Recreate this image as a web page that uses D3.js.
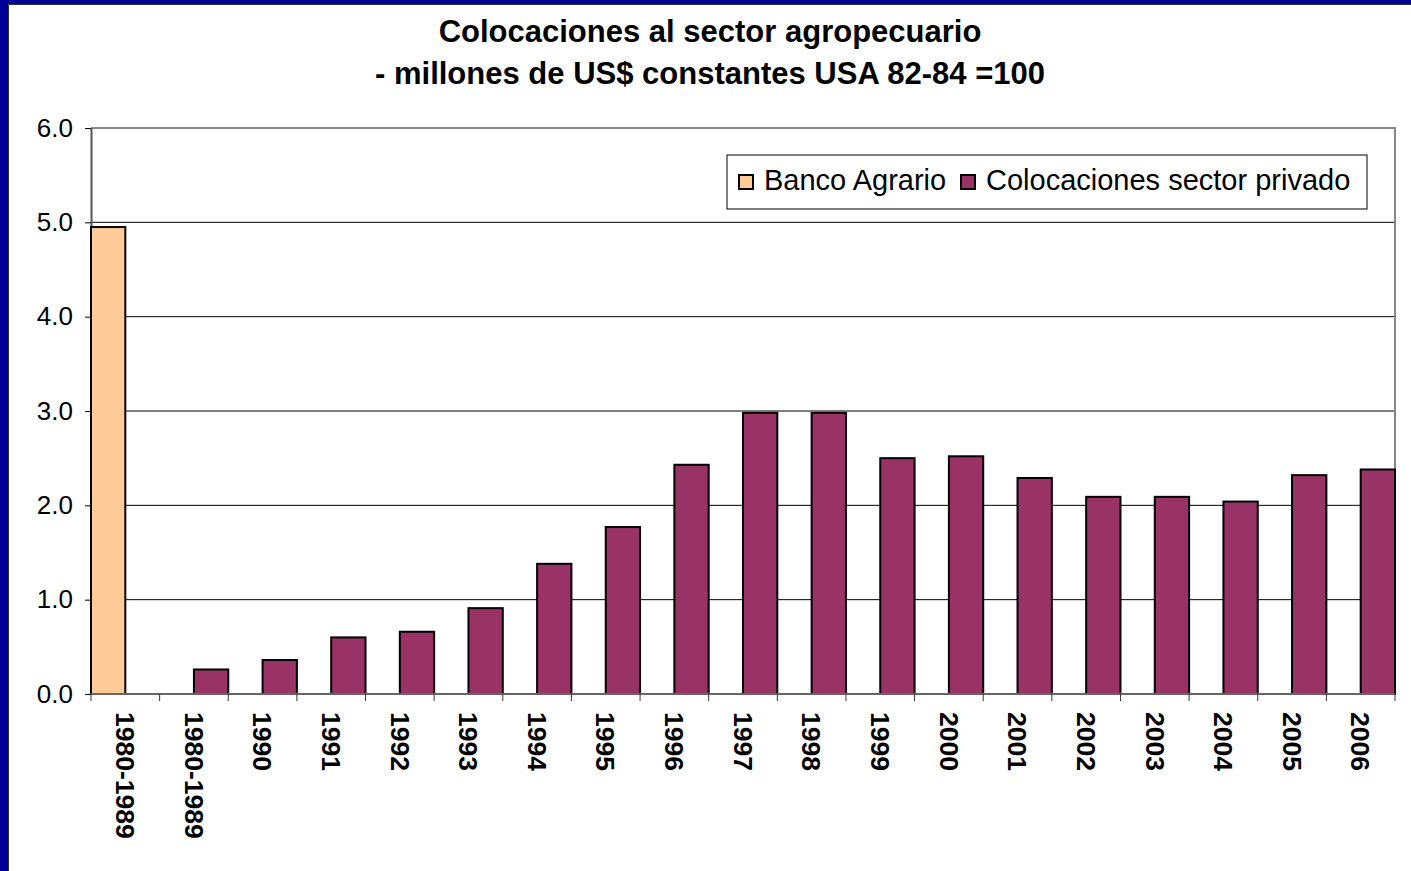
<!DOCTYPE html>
<html>
<head>
<meta charset="utf-8">
<script src="https://cdn.jsdelivr.net/npm/d3@7"></script>
<style>
  body { margin: 0; background: #fff; }
  text { font-family: Arial, "Liberation Sans", sans-serif; }
</style>
</head>
<body>
<div id="chart"></div>
<script>
// Data
const categories = ["1980-1989", "1980-1989", "1990", "1991", "1992", "1993", "1994", "1995", "1996",
    "1997", "1998", "1999", "2000", "2001", "2002", "2003", "2004", "2005", "2006"];
const seriesNames = ["Banco Agrario", "Colocaciones sector privado"];
const bancoAgrario = [4.95, null, null, null, null, null, null, null, null,
    null, null, null, null, null, null, null, null, null, null];
const sectorPrivado = [null, 0.26, 0.36, 0.60, 0.66, 0.91, 1.38, 1.77, 2.43,
    2.98, 2.98, 2.50, 2.52, 2.29, 2.09, 2.09, 2.04, 2.32, 2.38];
const yTicks = [0, 1, 2, 3, 4, 5, 6];
const titleLines = ["Colocaciones al sector agropecuario", "- millones de US$ constantes USA 82-84 =100"];

var W = 1411, H = 871
var margin = { left: 91, right: 16, top: 128, bottom: 177 }
var width = W - margin.left - margin.right
var height = H - margin.top - margin.bottom

const color = d3.scaleOrdinal().domain(seriesNames).range(["#FFCC99", "#993366"]);

// one row per category, index kept because the first label repeats
var data = categories.map((c, i) => ({
    key: i,
    category: c,
    values: [
        { series: seriesNames[0], value: bancoAgrario[i] },
        { series: seriesNames[1], value: sectorPrivado[i] }
    ]
}));

var svg = d3.select("#chart")
    .append("svg")
    .attr("width", W)
    .attr("height", H);

// blue frame on the left and top
svg.append("rect").attr("width", W).attr("height", H).attr("fill", "#000099");
svg.append("rect").attr("x", 8).attr("y", 4).attr("width", W - 8).attr("height", H - 4)
    .attr("fill", "#fff");
svg.append("path").attr("d", "M8.5," + H + "V4.5H" + W)
    .attr("fill", "none").attr("stroke", "#333").attr("stroke-width", 1);

// Title
svg.selectAll(".title")
    .data(titleLines)
    .enter().append("text")
    .attr("class", "title")
    .attr("x", 710)
    .attr("y", (d, i) => 42 + i * 42)
    .attr("text-anchor", "middle")
    .attr("font-size", "31px")
    .attr("font-weight", "bold")
    .text(d => d);

var g = svg.append("g")
    .attr("transform", "translate(" + margin.left + ", " + margin.top + ")");

var x0 = d3.scaleBand()
    .domain(data.map(d => d.key))
    .range([0, width])
    .padding(0);

var x1 = d3.scaleBand()
    .domain(seriesNames)
    .range([0, x0.bandwidth()])
    .padding(0);

var y = d3.scaleLinear()
    .domain([0, 6])
    .range([height, 0]);

// gridlines
g.selectAll(".grid")
    .data(yTicks.filter(t => t > 0 && t < 6))
    .enter().append("line")
    .attr("class", "grid")
    .attr("x1", 0).attr("x2", width)
    .attr("y1", d => y(d)).attr("y2", d => y(d))
    .attr("stroke", "#000")
    .attr("stroke-width", 1);

// plot frame top / right
g.append("path")
    .attr("d", "M0," + y(6) + "H" + width + "V" + height)
    .attr("fill", "none")
    .attr("stroke", "#888")
    .attr("stroke-width", 2);

// Y axis
var yAxisCall = d3.axisLeft(y)
    .tickValues(yTicks)
    .tickFormat(d3.format(".1f"))
    .tickSize(6)
    .tickSizeOuter(0)
    .tickPadding(12);
var yAxis = g.append("g")
    .attr("class", "y-axis")
    .call(yAxisCall);
yAxis.select(".domain").attr("stroke", "#555").attr("stroke-width", 2);
yAxis.selectAll("line").attr("stroke", "#000");
yAxis.selectAll("text")
    .attr("font-size", "26px")
    .attr("fill", "#000")
    .style("font-family", "Arial, 'Liberation Sans', sans-serif");

// bars
var slice = g.selectAll(".slice")
    .data(data)
    .enter().append("g")
    .attr("class", "slice")
    .attr("transform", d => "translate(" + x0(d.key) + ",0)");

slice.selectAll("rect")
    .data(d => d.values.filter(v => v.value != null))
    .enter().append("rect")
    .attr("x", d => x1(d.series))
    .attr("width", x1.bandwidth())
    .attr("y", d => y(d.value))
    .attr("height", d => height - y(d.value))
    .attr("fill", d => color(d.series))
    .attr("stroke", "#000")
    .attr("stroke-width", 2);

// X axis line and ticks at band edges
g.append("line")
    .attr("x1", 0).attr("x2", width)
    .attr("y1", height).attr("y2", height)
    .attr("stroke", "#666").attr("stroke-width", 2);

var edges = data.map(d => x0(d.key)).concat([width]);
g.selectAll(".xtick")
    .data(edges)
    .enter().append("line")
    .attr("class", "xtick")
    .attr("x1", d => d).attr("x2", d => d)
    .attr("y1", height).attr("y2", height + 7)
    .attr("stroke", "#333");

g.selectAll(".xlabel")
    .data(data)
    .enter().append("text")
    .attr("class", "xlabel")
    .attr("transform", d => "translate(" + (x0(d.key) + x0.bandwidth() / 2) + "," + (height + 18) + ") rotate(90)")
    .attr("dy", "0.35em")
    .attr("font-size", "26.5px")
    .attr("font-weight", "bold")
    .text(d => d.category);

// Legend
var legend = svg.append("g")
    .attr("class", "legend")
    .attr("transform", "translate(727,155)");

legend.append("rect")
    .attr("width", 640)
    .attr("height", 54)
    .attr("fill", "#fff")
    .attr("stroke", "#000")
    .attr("stroke-width", 1);

var legendX = [12, 234];
var item = legend.selectAll(".item")
    .data(seriesNames)
    .enter().append("g")
    .attr("class", "item")
    .attr("transform", (d, i) => "translate(" + legendX[i] + ",0)");

item.append("rect")
    .attr("x", 0)
    .attr("y", 20)
    .attr("width", 14)
    .attr("height", 14)
    .attr("fill", d => color(d))
    .attr("stroke", "#000")
    .attr("stroke-width", 2);

item.append("text")
    .attr("x", 25)
    .attr("y", 25)
    .attr("dy", "0.35em")
    .attr("font-size", "29px")
    .text(d => d);
</script>
</body>
</html>
